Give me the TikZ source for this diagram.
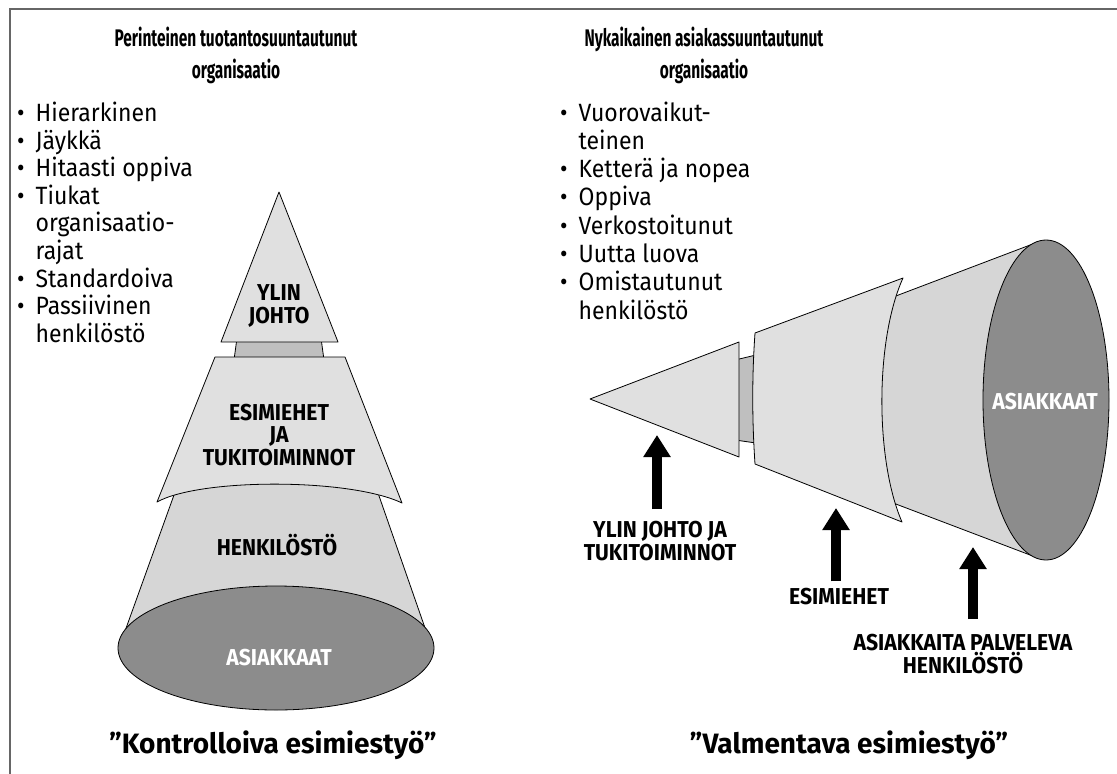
\documentclass[tikz,border=0pt]{standalone}
\usepackage{fontspec}
\usepackage{graphicx}
\setmainfont{Fira Sans}[FakeStretch=0.92]
\newfontfamily\capfont{Fira Sans}
\usetikzlibrary{arrows.meta}
\definecolor{facelight}{gray}{0.88}
\definecolor{facemid}{gray}{0.84}
\definecolor{neckgray}{gray}{0.75}
\definecolor{basegray}{gray}{0.55}
\definecolor{framegray}{gray}{0.4}
\newcommand{\dotmark}{\makebox[18.5pt][l]{\textbullet}}
\newcommand{\narrow}[1]{\scalebox{0.7}[1]{#1}}
\tikzset{
  face/.style={draw=black, line width=0.8pt, fill=facelight, line join=round},
  tag/.style={font=\fontsize{23}{22.5}\selectfont\bfseries, align=center, inner sep=0pt},
  title/.style={font=\fontsize{24}{32}\selectfont\bfseries, align=center, inner sep=0pt},
  caption/.style={font=\capfont\fontsize{28}{32}\selectfont\bfseries, inner sep=0pt},
  list/.style={inner sep=0pt, anchor=north west},
  bigarrow/.style={line width=10pt, -{Triangle[width=26pt,length=22pt]}},
}
\begin{document}
\begin{tikzpicture}[x=1pt,y=-1pt]
  \useasboundingbox (0,0) rectangle (1117,774);
  \draw[framegray, line width=2pt] (1117,9) -- (10,9) -- (10,774);

  \node[title] (ltitle) at (236,55) {\narrow{Perinteinen tuotantosuuntautunut}\\\narrow{organisaatio}};
  \node[title] (rtitle) at (704,55) {\narrow{Nykaikainen asiakassuuntautunut}\\\narrow{organisaatio}};

  \node[list, font=\fontsize{25}{27}\selectfont] (llist) at (17,102) {\begin{tabular}{@{}l@{}l@{}}
    \dotmark & Hierarkinen\\
    \dotmark & Jäykkä\\
    \dotmark & Hitaasti oppiva\\
    \dotmark & Tiukat\\
             & organisaatio-\\
             & rajat\\
    \dotmark & Standardoiva\\
    \dotmark & Passiivinen\\
             & henkilöstö
  \end{tabular}};
  \node[list, font=\fontsize{25}{28.3}\selectfont] (rlist) at (560,101) {\begin{tabular}{@{}l@{}l@{}}
    \dotmark & Vuorovaikut-\\
             & teinen\\
    \dotmark & Ketterä ja nopea\\
    \dotmark & Oppiva\\
    \dotmark & Verkostoitunut\\
    \dotmark & Uutta luova\\
    \dotmark & Omistautunut\\
             & henkilöstö
  \end{tabular}};

  \draw[face, fill=facemid] (183,470) -- (120,645) -- (432,648) -- (370,470) -- cycle;
  \draw[face, fill=basegray] (276,648) ellipse [x radius=158, y radius=62];
  \draw[face, fill=neckgray] (237,338) -- (321,338) -- (324,360) -- (234,360) -- cycle;
  \draw[face] (215,357) -- (345,357) -- (402,503) .. controls (350,478) and (200,478) .. (157,502) -- cycle;
  \draw[face] (279,192) -- (338,342) -- (221,342) -- cycle;

  \draw[face, fill=facemid] (880,302) -- (1038,242) -- (1038,558) -- (880,498) -- cycle;
  \draw[face, fill=basegray] (1046,400) ellipse [x radius=63, y radius=160];
  \draw[face, fill=neckgray] (735,360) -- (756,355) -- (756,443) -- (735,440) -- cycle;
  \draw[face] (755,333) -- (903,278) .. controls (875,340) and (875,460) .. (902,522) -- (755,464) .. controls (752,420) and (752,375) .. cycle;
  \draw[face] (590,399) -- (739,342) -- (739,457) -- cycle;

  \node[tag] (ylin) at (279,306) {YLIN\\JOHTO};
  \node[tag] (esim) at (279,435) {ESIMIEHET\\JA\\TUKITOIMINNOT};
  \node[tag] (henk) at (277,545) {HENKILÖSTÖ};
  \node[tag, white] (lbase) at (279,658) {ASIAKKAAT};
  \node[tag, white] (rbase) at (1045,402) {ASIAKKAAT};

  \node[tag] (l1) at (660,541) {YLIN JOHTO JA\\TUKITOIMINNOT};
  \node[tag] (l2) at (839,597) {ESIMIEHET};
  \node[tag] (l3) at (963,654) {ASIAKKAITA PALVELEVA\\HENKILÖSTÖ};
  \coordinate (t1) at (657,435);
  \coordinate (t2) at (836,508);
  \coordinate (t3) at (973,547);
  \draw[bigarrow, shorten <=12pt] (t1 |- l1.north) -- (t1);
  \draw[bigarrow, shorten <=7pt] (t2 |- l2.north) -- (t2);
  \draw[bigarrow, shorten <=15pt] (t3 |- l3.north) -- (t3);

  \node[caption] (lcap) at (273,745) {”Kontrolloiva esimiestyö”};
  \node[caption] (rcap) at (849,745) {”Valmentava esimiestyö”};
\end{tikzpicture}
\end{document}
